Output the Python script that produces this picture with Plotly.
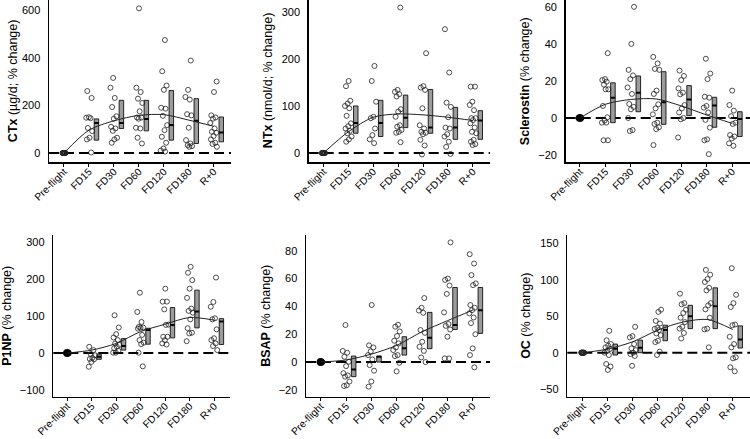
import numpy as np
import plotly.graph_objects as go

categories = ["Pre-flight", "FD15", "FD30", "FD60", "FD120", "FD180", "R+0"]

# ---------------- CTx ----------------
ctx_values = [
    [0, 0, 0, 0, 0, 0, 0, 0, 0, 0],
    [260, 231, 150, 148, 146, 105, 92, 64, 57, 2],
    [315, 274, 231, 193, 154, 144, 110, 103, 93, 64, 57, 43],
    [607, 274, 256, 228, 210, 175, 149, 149, 144, 106, 103, 64, 40],
    [474, 343, 283, 265, 190, 186, 156, 117, 96, 68, 43, 19, 10, 6],
    [388, 265, 235, 224, 163, 158, 106, 54, 40, 33, 29, 26],
    [300, 256, 158, 149, 144, 126, 103, 89, 85, 71, 57, 43, 38, 26],
]
ctx_q1 = [54, 103, 93, 54, 40, 47]
ctx_median = [126, 126, 143, 117, 135, 86]
ctx_q3 = [143, 221, 221, 262, 228, 151]
ctx_fit = [0, 96, 135, 158, 161, 138, 112]
ctx_yticks = [0, 200, 400, 600]

# ---------------- NTx ----------------
ntx_values = [
    [0, 0, 0, 0, 0, 0, 0, 0, 0, 0],
    [153, 142, 111, 105, 100, 95, 79, 63, 57, 52, 47, 42, 35, 29, 24],
    [185, 153, 109, 77, 74, 52, 38, 29, 21],
    [309, 134, 130, 125, 120, 93, 88, 77, 59, 56, 49, 45, 43, 23],
    [212, 142, 139, 134, 95, 59, 52, 45, 43, 40, 28, 16, -3],
    [263, 171, 107, 98, 76, 54, 52, 40, 35, 24, 13, -2],
    [141, 141, 109, 102, 91, 74, 74, 70, 63, 54, 45, 42, 28, 24, 19, 17],
]
ntx_q1 = [42, 35, 54, 42, 29, 29]
ntx_median = [64, 64, 75, 54, 54, 69]
ntx_q3 = [100, 112, 123, 135, 97, 90]
ntx_fit = [0, 45, 76, 83, 81, 76, 69]
ntx_yticks = [0, 100, 200, 300]

# ---------------- Sclerostin ----------------
scl_values = [
    [0, 0, 0, 0, 0, 0, 0, 0, 0, 0],
    [35, 21, 20.5, 19.6, 18, 15.5, 15.5, 6.5, 0.4, -1.4, -2.5, -2.5, -12, -12],
    [60, 40, 26, 23, 21, 16.5, 13, 7.6, 6, 4.7, 0, -6.5, -7],
    [33, 29.5, 26.5, 26, 14.8, 13, 7.4, 5.2, 2, -2.5, -3.2, -5, -6, -14.6],
    [25.6, 22.7, 20.5, 16, 13.7, 12.8, 7, 5.2, 3, 0, -0.7, -10.5],
    [32, 24, 21, 11.5, 11, 6.5, 5.6, 3, -1, -5.2, -11.5, -12, -19.5],
    [14.8, 7, 4, 1, -2.5, -3.2, -9.2, -10, -11, -13.7, -15],
]
scl_q1 = [-2.5, 3.4, -3.4, 1.3, -5, -10]
scl_median = [11, 13.7, 8.5, 10, 6.7, -0.5]
scl_q3 = [19, 22.7, 25, 17.5, 11.2, 3.4]
scl_fit = [0, 7.4, 10, 10.3, 6.5, 1.6, -2.9]
scl_yticks = [-20, 0, 20, 40, 60]

# ---------------- P1NP ----------------
p1np_values = [
    [0, 0, 0, 0, 0, 0, 0, 0, 0, 0],
    [17, 8, -3, -6, -13, -16, -17, -24, -37],
    [102, 69, 51, 42, 35, 26, 22, 17, 13, 6, 1, 1],
    [163, 111, 84, 71, 69, 68, 66, 49, 35, 28, 24, 1, -36],
    [174, 139, 139, 118, 77, 76, 44, 44, 35, 26, 23],
    [233, 217, 197, 174, 149, 120, 114, 109, 91, 67, 55, 53, 32],
    [204, 138, 125, 94, 91, 64, 40, 35, 26, 19, 8],
]
p1np_q1 = [-17, 8, 24, 41, 68, 23]
p1np_median = [-10, 19, 62, 76, 112, 85]
p1np_q3 = [-3, 39, 67, 123, 170, 93]
p1np_fit = [0, 8, 26, 58, 78, 96, 89]
p1np_yticks = [-100, 0, 100, 200, 300]

# ---------------- BSAP ----------------
bsap_values = [
    [0, 0, 0, 0, 0, 0, 0, 0, 0, 0],
    [26.6, 8, 6.7, 3.8, 0.2, -2.9, -8, -9.6, -10.5, -14, -16.7, -17.2],
    [41, 12, 10.5, 7.7, 5, 1.9, -2.2, -6.2, -14, -17.7],
    [26.8, 25.4, 22, 18.7, 15.3, 13.4, 10.5, 8.6, 5, 4.3, -0.5, -6.7],
    [46, 39, 37, 35.4, 23, 21, 14.6, 11, 8, 3.3, 0],
    [86, 60, 59, 55, 49, 35.7, 27.3, 26, 23.4, 18.2, 2.6, 2.6],
    [77.5, 70.8, 62.5, 56.5, 55.3, 41, 39, 37.3, 35, 32, 28, 20, 9.8, 5, -3.8],
]
bsap_q1 = [-10.5, 0, 5, 9.6, 23.4, 20.6]
bsap_median = [-5.3, 3.8, 10, 17.5, 26.6, 37.3]
bsap_q3 = [4.3, 4.3, 18.2, 35.7, 53.6, 53.6]
bsap_fit = [0, 1.5, 5.7, 12, 21.8, 29.7, 37.3]
bsap_yticks = [-20, 0, 20, 40, 60, 80]

# ---------------- OC ----------------
oc_values = [
    [0, 0, 0, 0, 0, 0, 0, 0, 0, 0],
    [30, 17, 11.8, 9.5, 7.3, 5, 2.7, 0, -3.2, -15.5, -19, -23.6],
    [35.5, 22.7, 21, 11.8, 5.9, 3.6, 0, -1.8, -4.5, -18],
    [59, 56, 43.6, 40, 34, 32.7, 31, 26.4, 24, 16.4, 14.5, 1.4, -3.2],
    [81, 68, 66.4, 59, 54.5, 48, 42, 35.5, 33, 27, 19.5],
    [113.6, 107, 101, 97, 89, 85.5, 68, 65, 59.5, 48, 33, 32, 7.3],
    [116, 79.5, 68, 62.7, 38.6, 37.7, 21.8, 11.8, 7.3, -6.4, -7.7, -20, -25.5],
]
oc_q1 = [-3.2, 0, 16.4, 33, 33, 6.4]
oc_median = [5.5, 6.8, 31, 50, 63.6, 18.2]
oc_q3 = [11.8, 17.3, 37.7, 65, 89, 36.8]
oc_fit = [0, 5, 15, 31, 42, 45.5, 31.8]
oc_yticks = [-50, 0, 50, 100, 150]

# ---------------- layout (pixel geometry) ----------------
W, H = 750, 439
FONT = "Arial, Liberation Sans, Helvetica, sans-serif"

panels = [
    dict(name="CTx", unit="(µg/d; % change)", values=ctx_values, q1=ctx_q1, med=ctx_median, q3=ctx_q3,
         fit=ctx_fit, yticks=ctx_yticks, px=(49, 231), py=(0, 162.3), xr=(-0.6, 6.69), yr=(-39, 642),
         tx=13, fill_pre=False),
    dict(name="NTx", unit="(nmol/d; % change)", values=ntx_values, q1=ntx_q1, med=ntx_median, q3=ntx_q3,
         fit=ntx_fit, yticks=ntx_yticks, px=(308.7, 490), py=(0, 162.3), xr=(-0.59, 6.69), yr=(-19.7, 325),
         tx=268, fill_pre=False),
    dict(name="Sclerostin", unit="(% change)", values=scl_values, q1=scl_q1, med=scl_median, q3=scl_q3,
         fit=scl_fit, yticks=scl_yticks, px=(565.7, 750), py=(0, 162.3), xr=(-0.56, 6.7), yr=(-23.9, 63.7),
         tx=525, fill_pre=True),
    dict(name="P1NP", unit="(% change)", values=p1np_values, q1=p1np_q1, med=p1np_median, q3=p1np_q3,
         fit=p1np_fit, yticks=p1np_yticks, px=(53.3, 230), py=(235, 396.7), xr=(-0.57, 6.65), yr=(-118, 319),
         tx=7, fill_pre=True),
    dict(name="BSAP", unit="(% change)", values=bsap_values, q1=bsap_q1, med=bsap_median, q3=bsap_q3,
         fit=bsap_fit, yticks=bsap_yticks, px=(306, 490), py=(235, 396.7), xr=(-0.58, 6.68), yr=(-24.9, 91.3),
         tx=266, fill_pre=True),
    dict(name="OC", unit="(% change)", values=oc_values, q1=oc_q1, med=oc_median, q3=oc_q3,
         fit=oc_fit, yticks=oc_yticks, px=(567.3, 750), py=(235, 396.7), xr=(-0.62, 6.69), yr=(-60.4, 161.5),
         tx=526, fill_pre=False),
]

GOLD = 0.6180339887


def jitter(n, start, spread):
    # deterministic horizontal jitter (position only)
    return np.array([((start + k * GOLD) % 1.0 - 0.5) * 2 * spread for k in range(n)])


fig = go.Figure()
layout = dict(
    template="none",
    width=W, height=H, margin=dict(l=0, r=0, t=0, b=0, pad=0), autosize=False,
    paper_bgcolor="white", plot_bgcolor="white", showlegend=False,
    font=dict(family=FONT, color="black", size=11),
    bargap=0, shapes=[], annotations=[],
)

BOX_OFF = 0.3
BOX_W = 0.18

for i, p in enumerate(panels):
    n = i + 1
    xa = "x" if n == 1 else f"x{n}"
    ya = "y" if n == 1 else f"y{n}"

    # individual points
    xs, ys = [], []
    for c, vals in enumerate(p["values"]):
        spread = 0.07 if c == 0 else 0.14
        offs = jitter(len(vals), 0.13 * (c + 1) + 0.29 * i, spread)
        xs += list(c + offs)
        ys += list(vals)
    fig.add_trace(go.Scatter(
        x=xs, y=ys, mode="markers", xaxis=xa, yaxis=ya, hoverinfo="skip",
        marker=dict(symbol="circle-open", size=5, color="#222", line=dict(width=0.8, color="#222")),
    ))
    if p["fill_pre"]:
        fig.add_trace(go.Scatter(
            x=[0], y=[p["values"][0][0]], mode="markers", xaxis=xa, yaxis=ya, hoverinfo="skip",
            marker=dict(symbol="circle", size=8, color="black"),
        ))

    # IQR boxes
    q1 = np.array(p["q1"], dtype=float)
    q3 = np.array(p["q3"], dtype=float)
    bx = np.arange(1, 7) + BOX_OFF
    fig.add_trace(go.Bar(
        x=bx, y=q3 - q1, base=q1, width=BOX_W, xaxis=xa, yaxis=ya, hoverinfo="skip",
        marker=dict(color="#9c9c9c", line=dict(color="#111", width=0.9)),
    ))
    # medians
    mx, my = [], []
    for k, m in enumerate(p["med"]):
        cx = k + 1 + BOX_OFF
        mx += [cx - BOX_W / 2, cx + BOX_W / 2, None]
        my += [m, m, None]
    fig.add_trace(go.Scatter(x=mx, y=my, mode="lines", xaxis=xa, yaxis=ya, hoverinfo="skip",
                             line=dict(color="black", width=2)))

    # fitted trajectory
    fig.add_trace(go.Scatter(
        x=list(range(7)), y=p["fit"], mode="lines", xaxis=xa, yaxis=ya, hoverinfo="skip",
        line=dict(color="#222", width=1, shape="spline", smoothing=0.8),
    ))

    # dashed zero line
    layout["shapes"].append(dict(
        type="line", xref=f"{xa} domain", yref=ya, x0=0, x1=1, y0=0, y1=0, layer="below",
        line=dict(color="black", width=2, dash="10px,5px"),
    ))

    xdom = [p["px"][0] / W, p["px"][1] / W]
    ydom = [1 - p["py"][1] / H, 1 - p["py"][0] / H]
    layout["xaxis" if n == 1 else f"xaxis{n}"] = dict(
        domain=xdom, range=list(p["xr"]), anchor=ya, automargin=False,
        tickmode="array", tickvals=list(range(7)), ticktext=categories, tickangle=-45,
        showline=True, linecolor="black", linewidth=1.5, ticks="outside", ticklen=3,
        tickcolor="black", tickwidth=1, showgrid=False, zeroline=False, ticklabelstandoff=-5,
        tickfont=dict(size=10.2, color="black", family=FONT),
    )
    layout["yaxis" if n == 1 else f"yaxis{n}"] = dict(
        domain=ydom, range=list(p["yr"]), anchor=xa, automargin=False,
        tickmode="array", tickvals=p["yticks"],
        showline=True, linecolor="black", linewidth=1.5, ticks="", ticklabelstandoff=5,
        showgrid=False, zeroline=False,
        tickfont=dict(size=11, color="black", family=FONT),
    )
    layout["annotations"].append(dict(
        text=f"<b>{p['name']}</b> {p['unit']}", xref="paper", yref="paper",
        x=p["tx"] / W, y=(ydom[0] + ydom[1]) / 2, textangle=-90, showarrow=False,
        xanchor="center", yanchor="middle", font=dict(size=12.5, color="black", family=FONT),
    ))

fig.update_layout(**layout)
fig.write_html(
    "out.html",
    config={"displayModeBar": False, "staticPlot": True},
    post_script="document.body.style.margin='0';document.body.style.overflow='hidden';",
)
